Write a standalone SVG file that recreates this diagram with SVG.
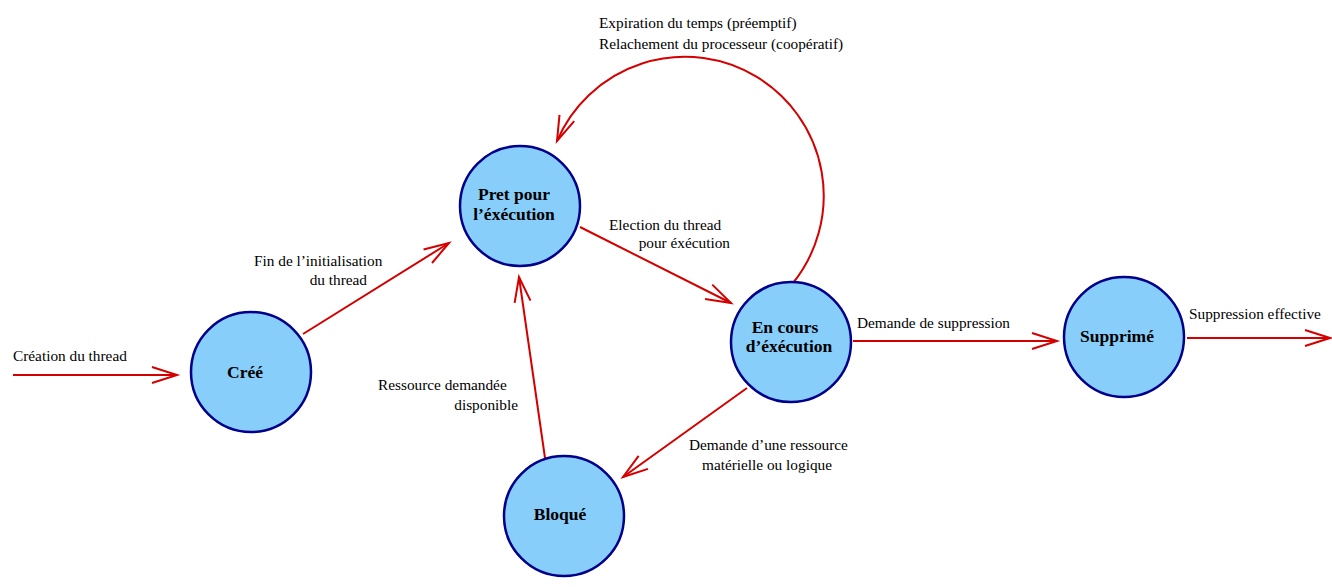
<svg xmlns="http://www.w3.org/2000/svg" width="1332" height="587" viewBox="0 0 1332 587">
<defs>
<marker id="arr" markerUnits="userSpaceOnUse" markerWidth="40" markerHeight="30" viewBox="-30 -15 40 30" refX="0" refY="0" orient="auto">
<path d="M-25,-8 L0,0 L-25,8" fill="none" stroke="#d40000" stroke-width="2"/>
</marker>
</defs>
<style>
.node{fill:#87cefa;stroke:#00008b;stroke-width:2.5}
.nl{font-family:"Liberation Serif",serif;font-weight:bold;font-size:17.5px;text-anchor:middle;fill:#000}
.el{fill:none;stroke:#d40000;stroke-width:2;marker-end:url(#arr)}
.lb{font-family:"Liberation Serif",serif;font-size:15.3px;fill:#000}
.r{text-anchor:end}
</style>
<g id="connectors">
<line class="el" x1="13" y1="375" x2="177" y2="375"/>
<line class="el" x1="303" y1="334" x2="449" y2="243"/>
<line class="el" x1="580" y1="227" x2="731" y2="303"/>
<line class="el" x1="853" y1="341" x2="1057" y2="341"/>
<line class="el" x1="1187" y1="338" x2="1330" y2="338"/>
<line class="el" x1="747" y1="388" x2="623" y2="477"/>
<line class="el" x1="545" y1="458" x2="519" y2="277"/>
<path class="el" d="M793,283 A139,139 0 1 0 557,141"/>
</g>
<g id="labels">
<text class="lb" x="599" y="28">Expiration du temps (préemptif)</text>
<text class="lb" x="599" y="49">Relachement du processeur (coopératif)</text>
<text class="lb" x="609" y="230">Election du thread</text>
<text class="lb r" x="730" y="248">pour éxécution</text>
<text class="lb" x="254" y="266">Fin de l’initialisation</text>
<text class="lb r" x="367" y="285">du thread</text>
<text class="lb" x="13" y="361">Création du thread</text>
<text class="lb" x="378" y="390">Ressource demandée</text>
<text class="lb r" x="518" y="410">disponible</text>
<text class="lb" x="857" y="328">Demande de suppression</text>
<text class="lb" x="1189" y="319">Suppression effective</text>
<text class="lb" x="689" y="450">Demande d’une ressource</text>
<text class="lb" x="702" y="470">matérielle ou logique</text>
</g>
<g id="cree"><circle class="node" cx="251" cy="372" r="60"/><text class="nl" x="245" y="378">Créé</text></g>
<g id="pret"><circle class="node" cx="520" cy="206" r="60"/><text class="nl" x="514" y="200">Pret pour</text><text class="nl" x="514" y="220">l’éxécution</text></g>
<g id="encours"><circle class="node" cx="791" cy="342" r="60"/><text class="nl" x="785" y="333">En cours</text><text class="nl" x="789" y="352">d’éxécution</text></g>
<g id="supprime"><circle class="node" cx="1124" cy="337" r="60"/><text class="nl" x="1117" y="342">Supprimé</text></g>
<g id="bloque"><circle class="node" cx="564" cy="516" r="60"/><text class="nl" x="560" y="520">Bloqué</text></g>
</svg>
